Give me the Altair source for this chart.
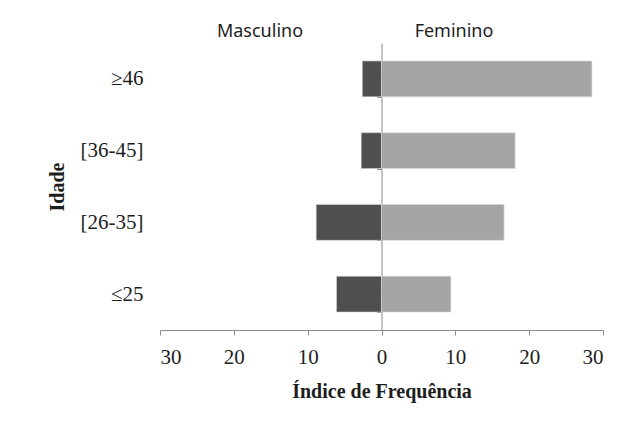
import altair as alt
import pandas as pd

ages = ["≥46", "[36-45]", "[26-35]", "≤25"]
masculino = [2.6, 2.75, 8.85, 6.1]
feminino = [28.5, 18.1, 16.6, 9.4]
sexes = ["Masculino", "Feminino"]
x_ticks = [-30, -20, -10, 0, 10, 20, 30]

rows = []
for a, m, f in zip(ages, masculino, feminino):
    rows.append({"idade": a, "sexo": sexes[0], "valor": -m})
    rows.append({"idade": a, "sexo": sexes[1], "valor": f})
df = pd.DataFrame(rows)

serif = "Liberation Serif"
axis_gray = "#8a8a8a"
txt = "#1e1e1e"

bars = alt.Chart(df).mark_bar(stroke="#dcdcdc", strokeWidth=0.6).encode(
    x=alt.X("valor:Q",
            scale=alt.Scale(domain=[-30, 30], nice=False, zero=False),
            axis=alt.Axis(values=x_ticks, labelExpr="abs(datum.value)",
                          title="Índice de Frequência", grid=False,
                          domainColor=axis_gray, tickColor=axis_gray, tickSize=5,
                          labelFont=serif, labelFontSize=21, labelColor=txt,
                          labelPadding=11,
                          titleFont=serif, titleFontSize=20, titleFontWeight="bold",
                          titleColor=txt, titlePadding=14)),
    y=alt.Y("idade:N", sort=ages,
            scale=alt.Scale(paddingInner=0.5, paddingOuter=0.25),
            axis=alt.Axis(title="Idade", offset=-221.5, labelPadding=233.5,
                          tickBand="extent", tickSize=5,
                          domainColor=axis_gray, tickColor=axis_gray,
                          labelFont=serif, labelFontSize=21, labelColor=txt,
                          titleFont=serif, titleFontSize=20, titleFontWeight="bold",
                          titleColor=txt, titleX=-324.5, titleY=143.5,
                          titleAngle=270, titleAlign="center", titleBaseline="middle")),
    color=alt.Color("sexo:N", scale=alt.Scale(domain=sexes, range=["#4f4f4f", "#a5a5a5"]),
                    legend=None),
)

lab_m = alt.Chart(pd.DataFrame({"t": [sexes[0]]})).mark_text(
    font="Noto Sans", fontSize=18, color=txt, baseline="middle", align="center"
).encode(text="t:N", x=alt.value(100), y=alt.value(-11))

lab_f = alt.Chart(pd.DataFrame({"t": [sexes[1]]})).mark_text(
    font="Noto Sans", fontSize=18, color=txt, baseline="middle", align="center"
).encode(text="t:N", x=alt.value(294), y=alt.value(-11))

chart = alt.layer(bars, lab_m, lab_f).properties(
    width=443, height=287,
    autosize=alt.AutoSizeParams(type="none"),
    padding={"left": 152, "top": 35, "right": 30, "bottom": 75},
).configure_view(stroke=None)

chart.save("out.html", embed_options={"renderer": "svg", "actions": False})
